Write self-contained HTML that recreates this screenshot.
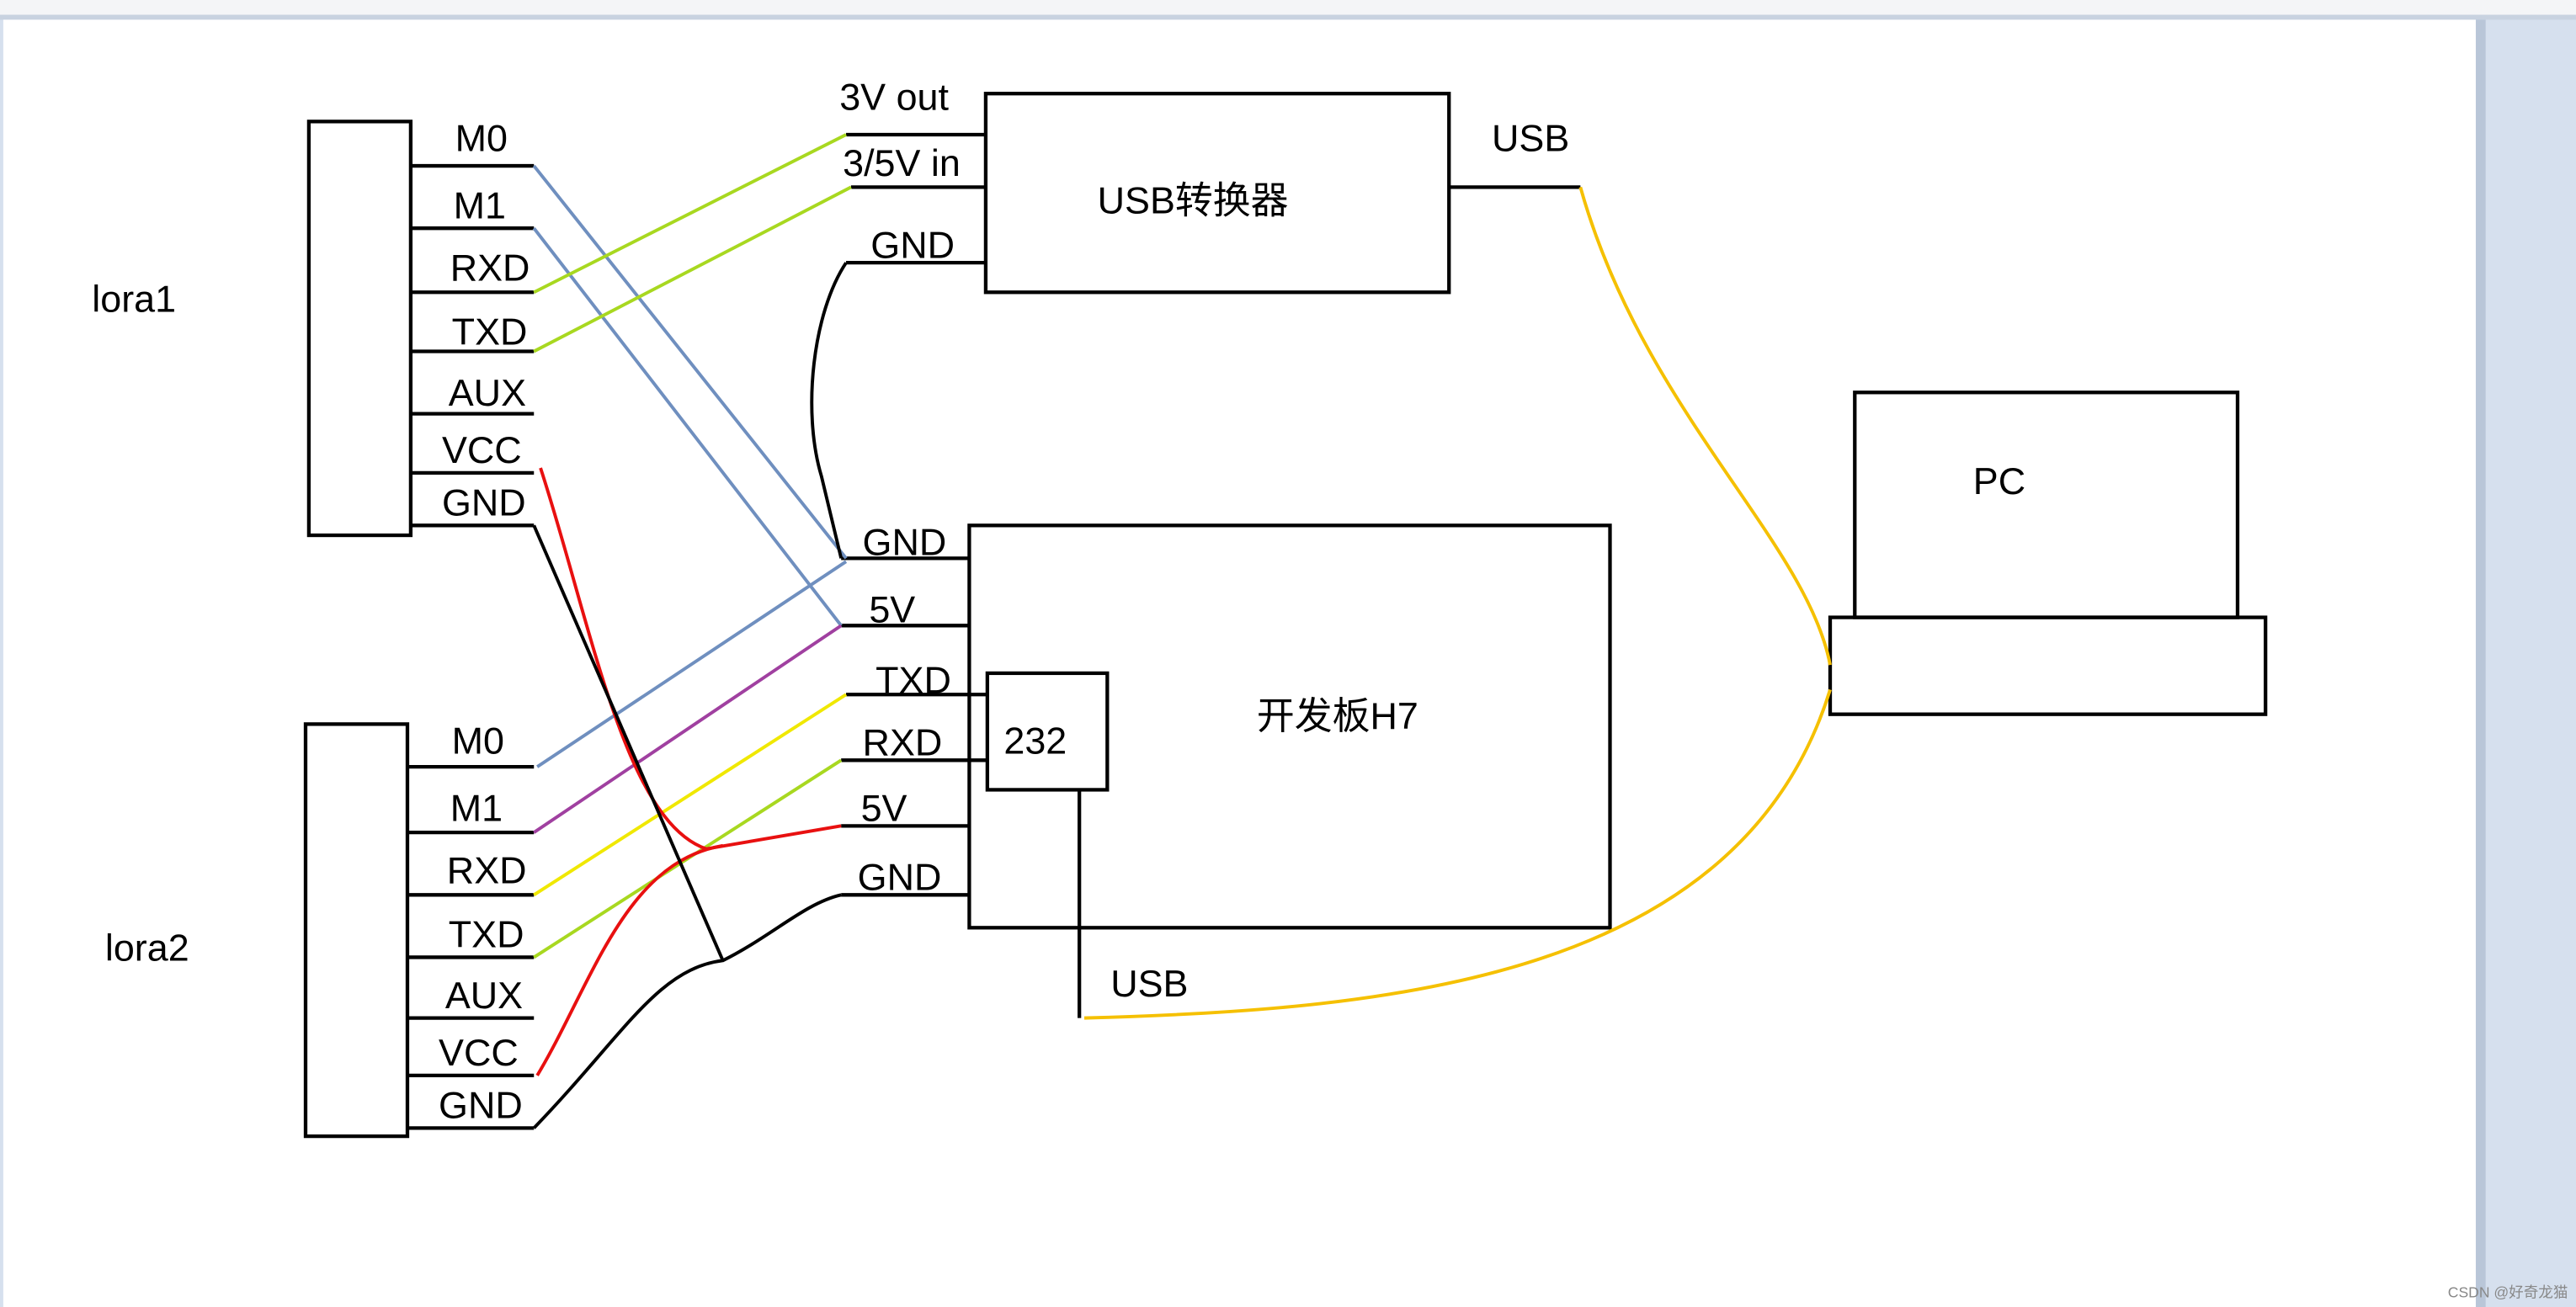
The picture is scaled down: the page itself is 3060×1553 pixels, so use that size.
<!DOCTYPE html>
<html><head><meta charset="utf-8"><style>
html,body{margin:0;padding:0;background:#fff}
svg{display:block}
text{font-family:"Liberation Sans","Noto Sans CJK SC",sans-serif;fill:#000}
</style></head><body>
<svg width="3060" height="1553" viewBox="0 0 1568 796" preserveAspectRatio="none" xmlns="http://www.w3.org/2000/svg">
<rect x="0" y="0" width="1568" height="796" fill="#d6e0ee"/>
<rect x="0" y="0" width="1568" height="9" fill="#f4f5f7"/>
<rect x="0" y="9" width="1568" height="3" fill="#c8d2e0"/>
<rect x="1505" y="12" width="8" height="784" fill="#b9c6d8"/>
<rect x="2" y="12" width="1505" height="784" fill="#fff"/>
<text x="1490" y="790" font-size="9" style="fill:#888">CSDN @好奇龙猫</text>

<g fill="none" stroke="#000" stroke-width="2.2">
<rect x="188" y="74" width="62" height="252"/>
<rect x="186" y="441" width="62" height="251"/>
<rect x="600" y="57" width="282" height="121"/>
<rect x="590" y="320" width="390" height="245"/>
<rect x="601" y="410" width="73" height="71"/>
<rect x="1129" y="239" width="233" height="137"/>
<rect x="1114" y="376" width="265" height="59"/>
<path d="M250 101H325M250 139H325M250 178H325M250 214H325M250 252H325M250 288H325M250 320H325"/>
<path d="M248 467H325M248 507H325M248 545H325M248 583H325M248 620H325M248 655H325M248 687H325"/>
<path d="M515 82H600M518 114H600M515 160H600M882 114H962"/>
<path d="M512 340H590M512 381H590M515 423H601M512 463H601M512 503H590M512 545H590"/>
<path d="M657 481V620"/>
</g>

<g fill="none" stroke-width="2">
<path d="M325 101L515 340" stroke="#6f8fbf"/>
<path d="M325 139L512 381" stroke="#6f8fbf"/>
<path d="M327 467L515 342" stroke="#6f8fbf"/>
<path d="M325 507L512 381" stroke="#a040a0"/>
<path d="M325 178L515 82" stroke="#a8d820"/>
<path d="M325 214L518 114" stroke="#a8d820"/>
<path d="M325 545L515 423" stroke="#f0e800"/>
<path d="M325 583L512 463" stroke="#a8d820"/>
<path d="M329 285C360 380 380 500 430 517L512 503" stroke="#e81010"/>
<path d="M327 655C360 600 380 525 440 515" stroke="#e81010"/>
<path d="M325 320L440 585" stroke="#000"/>
<path d="M325 687C380 630 400 590 440 585C470 570 490 550 512 545" stroke="#000"/>
<path d="M515 160C495 190 488 250 500 290L512 340" stroke="#000"/>
<path d="M962 114C1000 250 1100 330 1114 405" stroke="#f5c000"/>
<path d="M660 620C850 615 1060 595 1114 420" stroke="#f5c000"/>
</g>

<g font-size="23">
<text x="277" y="92">M0</text>
<text x="276" y="133">M1</text>
<text x="274" y="171">RXD</text>
<text x="275" y="210">TXD</text>
<text x="273" y="247">AUX</text>
<text x="269" y="282">VCC</text>
<text x="269" y="314">GND</text>
<text x="275" y="459">M0</text>
<text x="274" y="500">M1</text>
<text x="272" y="538">RXD</text>
<text x="273" y="577">TXD</text>
<text x="271" y="614">AUX</text>
<text x="267" y="649">VCC</text>
<text x="267" y="681">GND</text>
<text x="511" y="67">3V out</text>
<text x="513" y="107">3/5V in</text>
<text x="530" y="157">GND</text>
<text x="525" y="338">GND</text>
<text x="529" y="379">5V</text>
<text x="533" y="422">TXD</text>
<text x="525" y="460">RXD</text>
<text x="524" y="500">5V</text>
<text x="522" y="542">GND</text>
<text x="611" y="459">232</text>
<text x="676" y="607">USB</text>
<text x="908" y="92">USB</text>
<text x="668" y="130">USB转换器</text>
<text x="765" y="444">开发板H7</text>
<text x="1201" y="301">PC</text>
<text x="56" y="190">lora1</text>
<text x="64" y="585">lora2</text>
</g>
</svg>
</body></html>
